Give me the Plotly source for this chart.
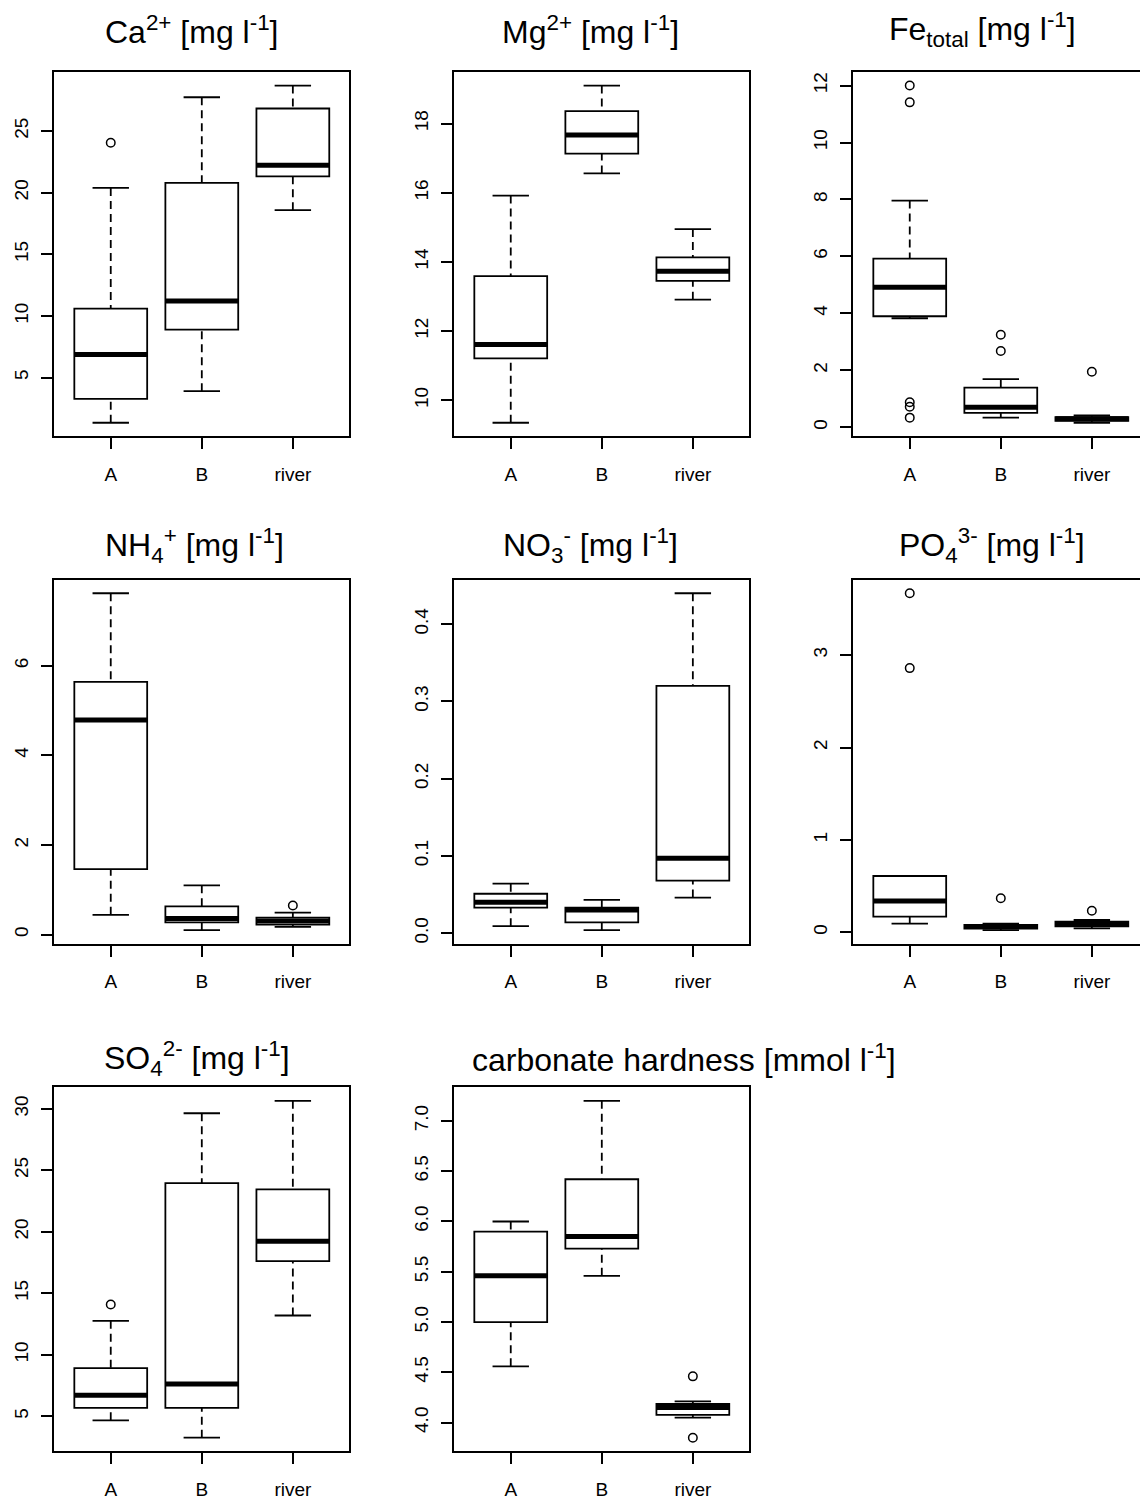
import plotly.graph_objects as go

groups = ["A", "B", "river"]
positions = [1, 2, 3]

# five-number summaries per group (A, B, river): lower whisker, Q1, median, Q3, upper whisker
ca_stats = [[1.34, 3.28, 6.88, 10.60, 20.39],
            [3.90, 8.90, 11.22, 20.79, 27.74],
            [18.58, 21.33, 22.22, 26.83, 28.69]]
ca_out = [[24.05], [], []]

mg_stats = [[9.35, 11.21, 11.61, 13.59, 15.92],
            [16.56, 17.13, 17.67, 18.36, 19.10],
            [12.91, 13.45, 13.73, 14.13, 14.95]]
mg_out = [[], [], []]

fe_stats = [[3.83, 3.90, 4.92, 5.92, 7.96],
            [0.34, 0.51, 0.70, 1.39, 1.69],
            [0.16, 0.23, 0.30, 0.36, 0.42]]
fe_out = [[12.00, 11.41, 0.88, 0.72, 0.34], [3.25, 2.68], [1.95]]

nh4_stats = [[0.44, 1.46, 4.79, 5.64, 7.62],
             [0.10, 0.27, 0.36, 0.63, 1.10],
             [0.17, 0.22, 0.30, 0.38, 0.49]]
nh4_out = [[], [], [0.65]]

no3_stats = [[0.009, 0.033, 0.040, 0.051, 0.064],
             [0.004, 0.014, 0.030, 0.033, 0.043],
             [0.046, 0.068, 0.097, 0.320, 0.440]]
no3_out = [[], [], []]

po4_stats = [[0.094, 0.17, 0.34, 0.61, 0.61],
             [0.025, 0.04, 0.063, 0.08, 0.095],
             [0.043, 0.065, 0.094, 0.115, 0.134]]
po4_out = [[3.67, 2.86], [0.37], [0.234]]

so4_stats = [[4.68, 5.70, 6.72, 8.93, 12.77],
             [3.27, 5.70, 7.64, 23.96, 29.64],
             [13.20, 17.62, 19.24, 23.45, 30.65]]
so4_out = [[14.09], [], []]

ch_stats = [[4.56, 5.00, 5.46, 5.90, 6.00],
            [5.46, 5.73, 5.85, 6.42, 7.20],
            [4.05, 4.076, 4.15, 4.185, 4.21]]
ch_out = [[], [], [4.46, 3.85]]

ca_ticks = [5, 10, 15, 20, 25]
mg_ticks = [10, 12, 14, 16, 18]
fe_ticks = [0, 2, 4, 6, 8, 10, 12]
nh4_ticks = [0, 2, 4, 6]
no3_ticks = [0.0, 0.1, 0.2, 0.3, 0.4]
po4_ticks = [0, 1, 2, 3]
so4_ticks = [5, 10, 15, 20, 25, 30]
ch_ticks = [4.0, 4.5, 5.0, 5.5, 6.0, 6.5, 7.0]

titles = [
    "Ca<sup>2+</sup> [mg l<sup>-1</sup>]",
    "Mg<sup>2+</sup> [mg l<sup>-1</sup>]",
    "Fe<sub>total</sub> [mg l<sup>-1</sup>]",
    "NH<sub>4</sub><sup>+</sup> [mg l<sup>-1</sup>]",
    "NO<sub>3</sub><sup>-</sup> [mg l<sup>-1</sup>]",
    "PO<sub>4</sub><sup>3-</sup> [mg l<sup>-1</sup>]",
    "SO<sub>4</sub><sup>2-</sup> [mg l<sup>-1</sup>]",
    "carbonate hardness [mmol l<sup>-1</sup>]",
]

# ---------------- layout geometry (pixels) ----------------
W, H = 1140, 1500
FONT = "Liberation Sans, Arial, Helvetica, sans-serif"
col_px = [(54.3, 349.3), (454.3, 749.3), (853.3, 1140.0)]
row_px = [(72.3, 437.7), (581.7, 946.7), (1091.0, 1456.0)]
title_pos = [(191, 30), (590, 30), (982, 30),
             (194, 547), (590, 547), (992, 547),
             (197, 1062), (684, 1062)]
px_per_unit = 295.0 / 3.24

panels = [
    (ca_stats, ca_out, ca_ticks, None, 0, 0),
    (mg_stats, mg_out, mg_ticks, None, 0, 1),
    (fe_stats, fe_out, fe_ticks, None, 0, 2),
    (nh4_stats, nh4_out, nh4_ticks, None, 1, 0),
    (no3_stats, no3_out, no3_ticks, ".1f", 1, 1),
    (po4_stats, po4_out, po4_ticks, None, 1, 2),
    (so4_stats, so4_out, so4_ticks, None, 2, 0),
    (ch_stats, ch_out, ch_ticks, ".1f", 2, 1),
]

fig = go.Figure()
LW = 1.8
BOXW = 0.8

# boxes first (so they are in the lower layer)
for i, (stats, outs, ticks, fmt, r, c) in enumerate(panels):
    k = "" if i == 0 else str(i + 1)
    for pos, s in zip(positions, stats):
        fig.add_trace(go.Box(
            x=[pos], q1=[s[1]], median=[s[2]], q3=[s[3]],
            lowerfence=[s[1]], upperfence=[s[3]],
            width=BOXW, whiskerwidth=0, fillcolor="white",
            line=dict(color="black", width=LW), boxpoints=False,
            xaxis="x" + k, yaxis="y" + k, showlegend=False, hoverinfo="skip"))

for i, (stats, outs, ticks, fmt, r, c) in enumerate(panels):
    k = "" if i == 0 else str(i + 1)
    wx, wy, cx, cy, mx, my, ox, oy = [], [], [], [], [], [], [], []
    for pos, s, o in zip(positions, stats, outs):
        wx += [pos, pos, None, pos, pos, None]
        wy += [s[0], s[1], None, s[4], s[3], None]
        cx += [pos - BOXW / 4, pos + BOXW / 4, None, pos - BOXW / 4, pos + BOXW / 4, None]
        cy += [s[0], s[0], None, s[4], s[4], None]
        mx += [pos - BOXW / 2, pos + BOXW / 2, None]
        my += [s[2], s[2], None]
        ox += [pos] * len(o)
        oy += list(o)
    common = dict(xaxis="x" + k, yaxis="y" + k, showlegend=False, hoverinfo="skip")
    fig.add_trace(go.Scatter(x=wx, y=wy, mode="lines",
                             line=dict(color="black", width=LW, dash="8px,5px"), **common))
    fig.add_trace(go.Scatter(x=cx, y=cy, mode="lines",
                             line=dict(color="black", width=LW), **common))
    fig.add_trace(go.Scatter(x=mx, y=my, mode="lines",
                             line=dict(color="black", width=5), **common))
    if ox:
        fig.add_trace(go.Scatter(x=ox, y=oy, mode="markers",
                                 marker=dict(symbol="circle-open", size=8.5, color="black",
                                             line=dict(width=1.5, color="black")), **common))

    # axes
    vals = [v for s in stats for v in s] + [v for o in outs for v in o]
    lo, hi = min(vals), max(vals)
    pad = 0.04 * (hi - lo)
    x0, x1 = col_px[c]
    y0, y1 = row_px[r]
    xr_hi = 3.62 if c < 2 else 0.38 + (x1 - x0) / px_per_unit
    axfont = dict(family=FONT, size=19, color="black")
    fig.layout["xaxis" + k] = dict(
        domain=[x0 / W, x1 / W], anchor="y" + k, range=[0.38, xr_hi],
        tickmode="array", tickvals=positions, ticktext=groups,
        showline=True, mirror=True, linecolor="black", linewidth=2,
        ticks="outside", ticklen=11, tickwidth=LW, tickcolor="black",
        showgrid=False, zeroline=False, tickfont=axfont, ticklabelstandoff=9)
    ya = dict(
        domain=[1 - y1 / H, 1 - y0 / H], anchor="x" + k, range=[lo - pad, hi + pad],
        tickmode="array", tickvals=ticks, tickangle=-90,
        showline=True, mirror=(c < 2), linecolor="black", linewidth=2,
        ticks="outside", ticklen=11, tickwidth=LW, tickcolor="black",
        showgrid=False, zeroline=False, tickfont=axfont, ticklabelstandoff=6)
    if fmt:
        ya["tickformat"] = fmt
    fig.layout["yaxis" + k] = ya

for t, (tx, ty) in zip(titles, title_pos):
    fig.add_annotation(text=t, x=tx / W, y=1 - ty / H, xref="paper", yref="paper",
                       xanchor="center", yanchor="middle", showarrow=False,
                       font=dict(family=FONT, size=32, color="black"))

fig.update_layout(width=W, height=H, margin=dict(l=0, r=0, t=0, b=0),
                  paper_bgcolor="white", plot_bgcolor="white",
                  boxmode="overlay", showlegend=False)

fig.write_html("out.html")
